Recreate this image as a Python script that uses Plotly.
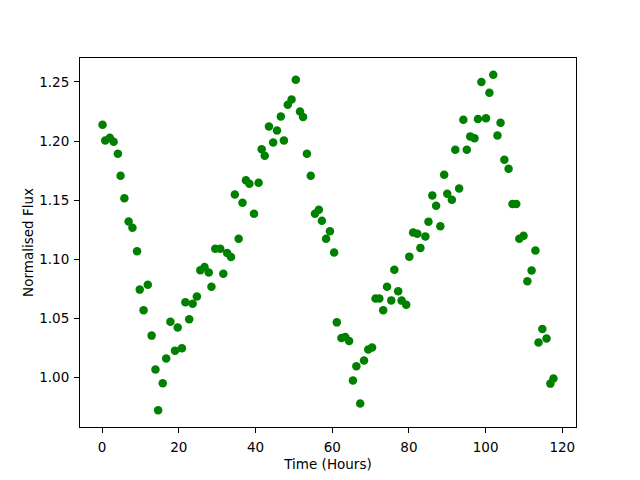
import plotly.graph_objects as go

time_hours = [0.1, 0.8, 2.0, 3.0, 4.1, 4.8, 5.8, 6.9, 7.9, 9.1, 9.8, 10.8, 11.9, 12.9, 13.9, 14.6, 15.8, 16.7, 17.8, 19.0, 19.7,
              20.8, 21.7, 22.7, 23.6, 24.7, 25.6, 26.7, 27.8, 28.5, 29.5, 30.8, 31.6, 32.6, 33.6, 34.6, 35.6, 36.6, 37.5, 38.4, 39.6,
              40.8, 41.6, 42.4, 43.5, 44.6, 45.6, 46.6, 47.4, 48.4, 49.4, 50.5, 51.6, 52.4, 53.4, 54.4, 55.5, 56.5, 57.3, 58.4, 59.4, 60.5, 61.2,
              62.4, 63.4, 64.4, 65.4, 66.3, 67.3, 68.3, 69.4, 70.4, 71.3, 72.3, 73.3, 74.3, 75.4, 76.2, 77.2, 78.1, 79.3, 80.1, 81.1, 82.2, 83.0,
              84.3, 85.1, 86.1, 87.1, 88.2, 89.2, 90.0, 91.2, 92.1, 93.1, 94.2, 95.1, 96.0, 97.1, 98.0, 98.9, 100.1, 101.0, 102.0,
              103.1, 103.9, 104.9, 106.0, 107.0, 108.0, 108.8, 109.9, 110.9, 112.0, 113.0, 113.8, 114.8, 115.9, 116.9, 117.7]

flux = [1.2139, 1.2006, 1.2029, 1.1995, 1.1893, 1.1707, 1.1516, 1.1321, 1.1268, 1.1068, 1.0744, 1.0569, 1.0786, 1.0355, 1.0068, 0.9724, 0.9952, 1.0161, 1.0473, 1.0228, 1.0423,
        1.0248, 1.0637, 1.0493, 1.0625, 1.0685, 1.0907, 1.0935, 1.0888, 1.0769, 1.1090, 1.1090, 1.0879, 1.1054, 1.1019, 1.1549, 1.1175, 1.1479, 1.1668, 1.1640, 1.1386,
        1.1648, 1.1932, 1.1877, 1.2124, 1.1989, 1.2090, 1.2209, 1.2006, 1.2308, 1.2352, 1.2519, 1.2251, 1.2203, 1.1893, 1.1707, 1.1386, 1.1420, 1.1327, 1.1175, 1.1237, 1.1057, 1.0467,
        1.0335, 1.0343, 1.0309, 0.9975, 1.0096, 0.9780, 1.0144, 1.0237, 1.0254, 1.0668, 1.0668, 1.0569, 1.0769, 1.0653, 1.0913, 1.0730, 1.0651, 1.0617, 1.1023, 1.1228, 1.1217, 1.1097,
        1.1194, 1.1319, 1.1541, 1.1454, 1.1279, 1.1716, 1.1555, 1.1505, 1.1927, 1.1600, 1.2181, 1.1927, 1.2040, 1.2025, 1.2186, 1.2499, 1.2194, 1.2409, 1.2561,
        1.2047, 1.2156, 1.1843, 1.1767, 1.1468, 1.1468, 1.1175, 1.1200, 1.0814, 1.0905, 1.1074, 1.0296, 1.0411, 1.0330, 0.9949, 0.9992]

x_ticks = [0, 20, 40, 60, 80, 100, 120]
y_ticks = [1.00, 1.05, 1.10, 1.15, 1.20, 1.25]

xmin, xmax = min(time_hours), max(time_hours)
ymin, ymax = min(flux), max(flux)
xpad = 0.05 * (xmax - xmin)
ypad = 0.05 * (ymax - ymin)

fig = go.Figure(go.Scatter(
    x=time_hours, y=flux, mode="markers",
    marker=dict(color="#008000", size=8.5, line=dict(width=0)),
))

axis_common = dict(
    showline=True, linecolor="black", linewidth=1, mirror=True,
    ticks="outside", ticklen=5, tickwidth=1, tickcolor="black",
    showgrid=False, zeroline=False,
    tickfont=dict(family="DejaVu Sans", size=13.5, color="black"),
)

fig.update_layout(
    width=640, height=480,
    margin=dict(l=72, r=72, t=50, b=61),
    paper_bgcolor="white", plot_bgcolor="white",
    font=dict(family="DejaVu Sans", size=13.5, color="black"),
    showlegend=False,
    xaxis=dict(range=[xmin - xpad, xmax + xpad], tickvals=x_ticks,
               ticklabelstandoff=3,
               title=dict(text="Time (Hours)", font=dict(size=13.5), standoff=5),
               **axis_common),
    yaxis=dict(range=[ymin - ypad, ymax + ypad], tickvals=y_ticks,
               ticktext=[f"{v:.2f}" for v in y_ticks],
               ticklabelstandoff=2,
               title=dict(text="Normalised Flux", font=dict(size=13.5), standoff=2),
               **axis_common),
)

fig.write_html("out.html")
